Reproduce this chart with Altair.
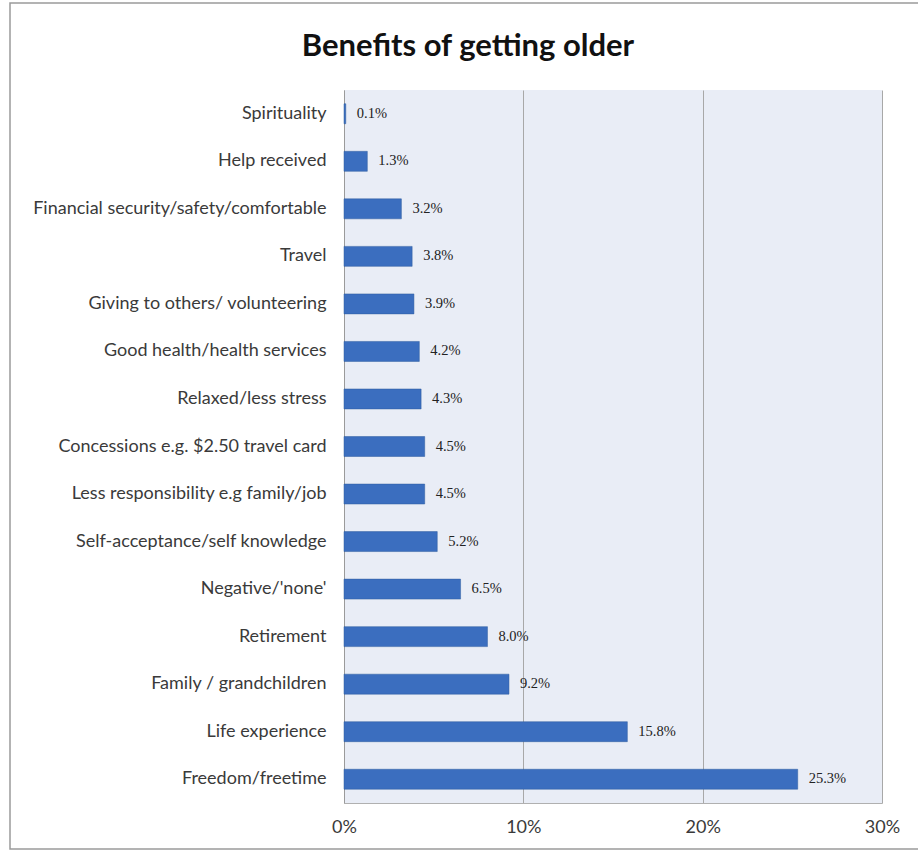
import altair as alt
import pandas as pd

categories = [
    "Spirituality", "Help received", "Financial security/safety/comfortable", "Travel",
    "Giving to others/ volunteering", "Good health/health services", "Relaxed/less stress",
    "Concessions e.g. $2.50 travel card", "Less responsibility e.g family/job",
    "Self-acceptance/self knowledge", "Negative/'none'", "Retirement",
    "Family / grandchildren", "Life experience", "Freedom/freetime",
]
values = [0.1, 1.3, 3.2, 3.8, 3.9, 4.2, 4.3, 4.5, 4.5, 5.2, 6.5, 8.0, 9.2, 15.8, 25.3]
title_text = "Benefits of getting older"

df = pd.DataFrame({"cat": categories, "val": values})
df["label"] = [f"{v:.1f}%" for v in values]

W, H = 538, 713

y_enc = alt.Y("cat:N", sort=categories, title=None,
              scale=alt.Scale(paddingInner=0.58, paddingOuter=0.29),
              axis=alt.Axis(labelFont="Lato", labelFontSize=18, labelColor="#3a3a3a",
                            labelPadding=18, ticks=False, domain=True, domainColor="#9a9a9a",
                            labelLimit=400))
x_enc = alt.X("val:Q", title=None,
              scale=alt.Scale(domain=[0, 30]),
              axis=alt.Axis(values=[0, 10, 20, 30], labelExpr="datum.value + '%'",
                            labelFont="Lato", labelFontSize=18, labelColor="#3a3a3a",
                            labelPadding=15, ticks=False, grid=True, gridColor="#a8a8a8",
                            domainColor="#b0b0b0", labelFlush=False))

one = pd.DataFrame({"t": [title_text]})

frame = alt.Chart(one).mark_rect(
    fillOpacity=0, stroke="#9a9a9a", strokeWidth=1.5, clip=False
).encode(x=alt.value(-334), x2=alt.value(W + 60), y=alt.value(-87), y2=alt.value(H + 46))

title = alt.Chart(one).mark_text(
    font="Lato", fontSize=31, fontWeight="bold", color="#111111",
    align="center", baseline="alphabetic", clip=False
).encode(x=alt.value(124), y=alt.value(-34), text="t:N")

bars = alt.Chart(df).mark_bar(color="#3B6EBF", stroke="#2f5c9f", strokeWidth=0.5).encode(
    x=x_enc, y=y_enc)

text = alt.Chart(df).mark_text(align="left", baseline="middle", dx=11, font="Liberation Serif",
                               fontSize=14.5, color="#222222").encode(
    x="val:Q", y=alt.Y("cat:N", sort=categories), text="label:N")

chart = alt.layer(frame, title, bars, text).properties(
    width=W, height=H,
    padding={"left": 344, "top": 90, "right": 36, "bottom": 49},
    autosize=alt.AutoSizeParams(type="none"),
).configure(background="white").configure_view(fill="#E9EDF6", stroke=None)

chart.save("out.html", embed_options={"renderer": "svg", "actions": False})
